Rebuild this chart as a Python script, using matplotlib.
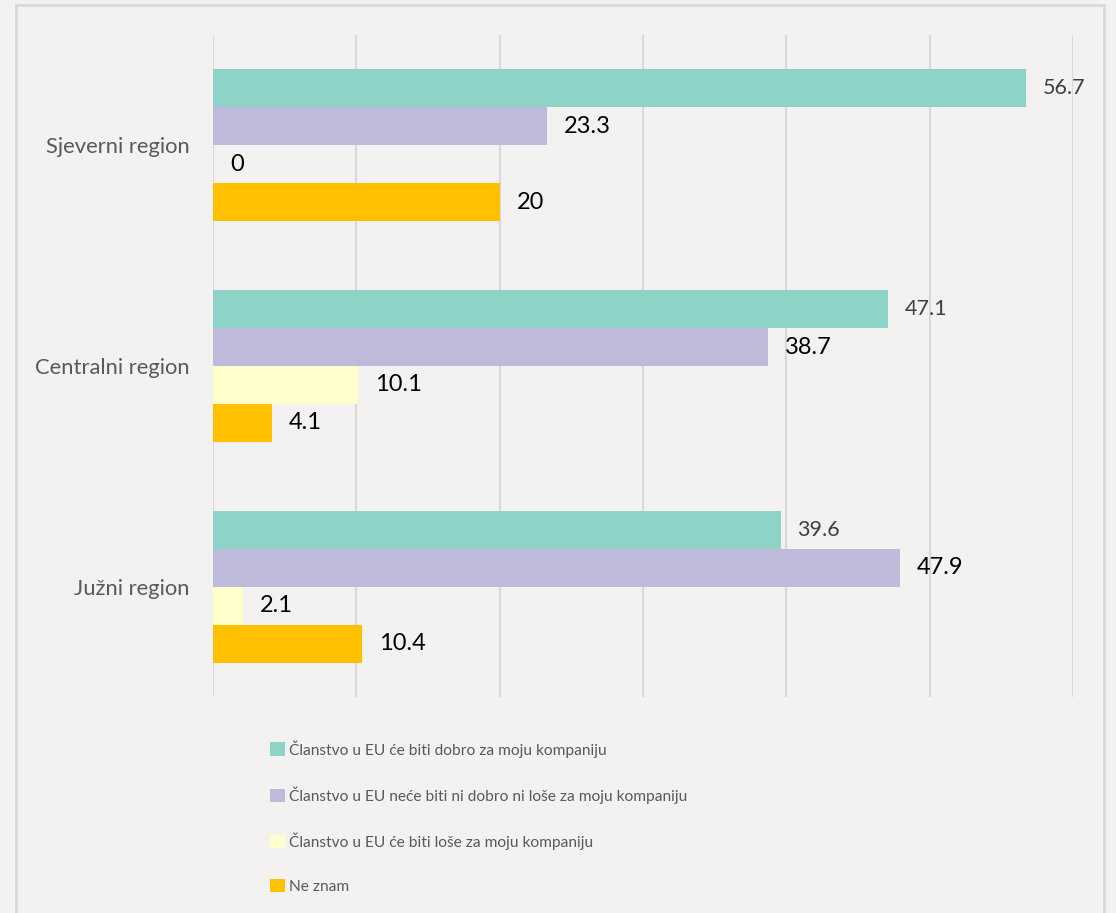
import matplotlib.pyplot as plt
import numpy as np
from matplotlib.patches import Rectangle

# podaci
regije = ['Sjeverni region', 'Centralni region', 'Južni region']
serije = ['Članstvo u EU će biti dobro za moju kompaniju',
          'Članstvo u EU neće biti ni dobro ni loše za moju kompaniju',
          'Članstvo u EU će biti loše za moju kompaniju',
          'Ne znam']
dobro = [56.7, 47.1, 39.6]
ni_dobro_ni_lose = [23.3, 38.7, 47.9]
lose = [0, 10.1, 2.1]
ne_znam = [20, 4.1, 10.4]
boje = ['#8DD3C7', '#BEBADA', '#FFFFCC', '#FFC000']

plt.rcParams['font.family'] = ['Lato', 'DejaVu Sans']

fig = plt.figure(figsize=(11.16, 9.13), dpi=100)
fig.patch.set_facecolor('#F3F2F0')

# okvir oko grafikona
fig.patches.append(Rectangle((16 / 1116, -0.01), (1104 - 16) / 1116, 908 / 913 + 0.01,
                             transform=fig.transFigure, fill=False,
                             edgecolor='#D9D9D9', linewidth=2))

ax = fig.add_axes([213 / 1116, (913 - 697) / 913, (1073 - 213) / 1116, (697 - 35) / 913])
ax.set_facecolor('none')

y = np.arange(len(regije))
h = 0.172
podaci = [dobro, ni_dobro_ni_lose, lose, ne_znam]
for i, vrijednosti in enumerate(podaci):
    pos = y + (i - 1.5) * h
    ax.barh(pos, vrijednosti, height=h, color=boje[i], edgecolor='none', zorder=3,
            label=serije[i])
    for p, v in zip(pos, vrijednosti):
        txt = f'{v:g}'
        if i == 0:
            ax.annotate(txt, (v, p), xytext=(17, 0), textcoords='offset pixels',
                        va='center', ha='left', fontsize=15.5, color='#404040')
        else:
            ax.annotate(txt, (v, p), xytext=(17, 0), textcoords='offset pixels',
                        va='center', ha='left', fontsize=17, color='black')

ax.set_xlim(0, 60)
ax.set_ylim(len(regije) - 0.5, -0.5)
ax.set_xticks(range(0, 61, 10))
ax.set_xticklabels([])
ax.tick_params(length=0)
ax.set_yticks(y)
ax.set_yticklabels(regije, fontsize=15.8, color='#595959')
ax.tick_params(axis='y', pad=17)
ax.grid(axis='x', color='#D9D9D9', linewidth=1.5, zorder=0)
for s in ax.spines.values():
    s.set_visible(False)

leg = fig.legend(loc='upper left', bbox_to_anchor=(270 / 1116, 1 - 740 / 913),
                 frameon=False, fontsize=11.2, handlelength=0.95, handleheight=0.95,
                 handletextpad=0.3, labelspacing=1.85, labelcolor='#595959',
                 borderpad=0, borderaxespad=0)

fig.savefig('out.png', dpi=100, facecolor=fig.get_facecolor())
